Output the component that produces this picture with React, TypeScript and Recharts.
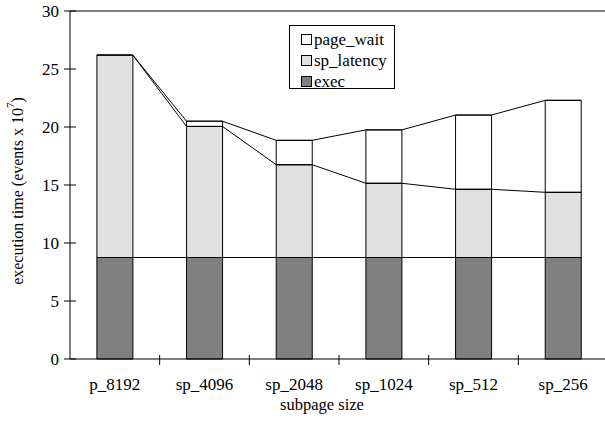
import React from 'react';
import { ComposedChart, Bar, Scatter, XAxis, YAxis, ReferenceLine, Legend } from 'recharts';

const categories = ['p_8192', 'sp_4096', 'sp_2048', 'sp_1024', 'sp_512', 'sp_256'];
const execValues = [8.75, 8.75, 8.75, 8.75, 8.75, 8.75];
const spLatencyValues = [17.45, 11.3, 8.0, 6.4, 5.88, 5.62];
const pageWaitValues = [0, 0.45, 2.1, 4.6, 6.4, 7.93];
const yTicks = [0, 5, 10, 15, 20, 25, 30];
const legendOrder = ['page_wait', 'sp_latency', 'exec'];

const FONT = '"Liberation Serif", "Times New Roman", serif';
// bar takes 40% of a band (barCategoryGap 30%), so half a bar = 0.2 band
const HALF_BAR = 0.2;

const data = categories.map((name, i) => ({
  name,
  exec: execValues[i],
  sp_latency: spLatencyValues[i],
  page_wait: pageWaitValues[i],
}));

const execTops = execValues;
const latencyTops = execValues.map((v, i) => v + spLatencyValues[i]);
const waitTops = latencyTops.map((v, i) => v + pageWaitValues[i]);

// series lines join the bar edges, so each top is given at both edges of its bar
const edgePoints = (tops: number[]) =>
  tops.flatMap((t, i) => [
    { x: i + 0.5 - HALF_BAR, y: t },
    { x: i + 0.5 + HALF_BAR, y: t },
  ]);

const YTick = (p: any) => (
  <g>
    <line x1={p.x - 6} x2={p.x + 6} y1={p.y} y2={p.y} stroke="#000" />
    <text x={p.x - 11} y={p.y} dy="0.35em" textAnchor="end" fontSize={17} fontFamily={FONT} fill="#000">
      {p.payload.value}
    </text>
  </g>
);

const XTick = (p: any) => {
  const off = p.payload.offset ?? 0;
  const last = p.index === categories.length - 1;
  return (
    <g>
      {!last && <line x1={p.x + off} x2={p.x + off} y1={p.y - 4} y2={p.y + 6} stroke="#000" />}
      <text x={p.x} y={p.y + 31} textAnchor="middle" fontSize={17} fontFamily={FONT} fill="#000">
        {p.payload.value}
      </text>
    </g>
  );
};

const YLabel = (p: any) => {
  const vb = p.viewBox;
  const cx = vb.x + 17;
  const cy = vb.y + vb.height / 2 + 6;
  return (
    <text
      x={cx}
      y={cy}
      transform={`rotate(-90, ${cx}, ${cy})`}
      textAnchor="middle"
      dominantBaseline="central"
      fontSize={16}
      fontFamily={FONT}
      fill="#000"
    >
      execution time (events x 10
      <tspan fontSize={11} dy={-7}>7</tspan>
      <tspan dy={7}>)</tspan>
    </text>
  );
};

const XLabel = (p: any) => {
  const vb = p.viewBox;
  return (
    <text x={vb.x + 252} y={vb.y + 51} textAnchor="middle" fontSize={16.5} fontFamily={FONT} fill="#000">
      subpage size
    </text>
  );
};

const LegendBox = (props: any) => {
  const all = (props.payload || []).filter((it: any) => legendOrder.includes(it.value));
  const items = legendOrder.map((n) => all.find((it: any) => it.value === n)).filter(Boolean);
  return (
    <div
      style={{
        border: '1px solid #000',
        background: '#fff',
        width: 106,
        height: 64,
        boxSizing: 'border-box',
        padding: '3px 0 0 11px',
        fontFamily: FONT,
        fontSize: 17,
        color: '#000',
      }}
    >
      {items.map((it: any) => (
        <div key={it.value} style={{ display: 'flex', alignItems: 'center', height: 21 }}>
          <span
            style={{
              display: 'inline-block',
              width: 11,
              height: 11,
              boxSizing: 'border-box',
              border: '1px solid #000',
              background: it.payload?.fill ?? it.color,
              marginRight: 2,
            }}
          />
          <span style={{ lineHeight: '21px' }}>{it.value}</span>
        </div>
      ))}
    </div>
  );
};

export default function App() {
  return (
    <div style={{ position: 'absolute', left: 0, top: 0, width: 605, height: 424, overflow: 'hidden', background: '#fff' }}>
      <ComposedChart width={620} height={424} data={data} margin={{ top: 11, right: 12, bottom: 0, left: 0 }} barCategoryGap="30%">
        <XAxis
          xAxisId="cat"
          dataKey="name"
          height={65}
          tickLine={false}
          tickSize={0}
          tickMargin={0}
          axisLine={{ stroke: '#000' }}
          tick={XTick}
          interval={0}
          label={{ content: XLabel }}
        />
        <XAxis xAxisId="num" type="number" dataKey="x" domain={[0, categories.length]} hide allowDataOverflow />
        <YAxis
          yAxisId="left"
          width={70}
          domain={[0, 30]}
          ticks={yTicks}
          tickLine={false}
          tickSize={0}
          tickMargin={0}
          axisLine={{ stroke: '#000' }}
          tick={YTick}
          label={{ content: YLabel }}
        />
        <YAxis yAxisId="num" type="number" dataKey="y" domain={[0, 30]} hide allowDataOverflow />
        <ReferenceLine yAxisId="left" xAxisId="cat" y={30} stroke="#808080" strokeWidth={2} />
        <Bar xAxisId="cat" yAxisId="left" dataKey="exec" name="exec" stackId="s" fill="#808080" stroke="#000" strokeWidth={1} isAnimationActive={false} />
        <Bar xAxisId="cat" yAxisId="left" dataKey="sp_latency" name="sp_latency" stackId="s" fill="#e0e0e0" stroke="#000" strokeWidth={1} isAnimationActive={false} />
        <Bar xAxisId="cat" yAxisId="left" dataKey="page_wait" name="page_wait" stackId="s" fill="#ffffff" stroke="#000" strokeWidth={1} isAnimationActive={false} />
        <Scatter xAxisId="num" yAxisId="num" data={edgePoints(execTops)} line={{ stroke: '#000', strokeWidth: 1 }} lineType="joint" shape={() => <g />} legendType="none" isAnimationActive={false} />
        <Scatter xAxisId="num" yAxisId="num" data={edgePoints(latencyTops)} line={{ stroke: '#000', strokeWidth: 1 }} lineType="joint" shape={() => <g />} legendType="none" isAnimationActive={false} />
        <Scatter xAxisId="num" yAxisId="num" data={edgePoints(waitTops)} line={{ stroke: '#000', strokeWidth: 1 }} lineType="joint" shape={() => <g />} legendType="none" isAnimationActive={false} />
        <Legend
          layout="vertical"
          align="center"
          verticalAlign="middle"
          content={LegendBox}
          wrapperStyle={{ position: 'absolute', left: 289, top: 25, width: 106, height: 64 }}
        />
      </ComposedChart>
    </div>
  );
}
